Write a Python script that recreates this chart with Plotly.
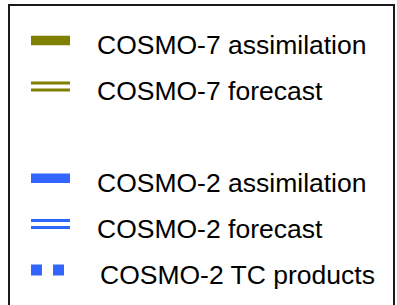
import plotly.graph_objects as go

# Legend entries (the chart is a standalone key)
labels = ["COSMO-7 assimilation", "COSMO-7 forecast",
          "COSMO-2 assimilation", "COSMO-2 forecast", "COSMO-2 TC products"]
rows = [0, 1, 3, 4, 5]            # row 2 is an empty spacer row
kinds = ["assimilation", "forecast", "assimilation", "forecast", "products"]
colors = {"COSMO-7": "#808000", "COSMO-2": "#3366ff"}

W, H = 397, 305
ROW_PX = 45.9          # row spacing in pixels
TOP_PX = 40.5          # centre of first row in pixels

fig = go.Figure()

def off(px):
    return px / ROW_PX

for lab, r, kind in zip(labels, rows, kinds):
    col = colors[lab.split()[0]]
    if kind == "assimilation":
        fig.add_trace(go.Scatter(x=[31, 70], y=[r, r], mode="lines",
                                 line=dict(color=col, width=9.5),
                                 hoverinfo="skip", showlegend=False))
    elif kind == "forecast":
        for d in (-3.5, 3.5):
            fig.add_trace(go.Scatter(x=[31, 70], y=[r + off(d), r + off(d)], mode="lines",
                                     line=dict(color=col, width=3),
                                     hoverinfo="skip", showlegend=False))
    else:
        fig.add_trace(go.Scatter(x=[36.5, 58.5], y=[r, r], mode="markers",
                                 marker=dict(symbol="square", size=11, color=col,
                                             line=dict(width=0)),
                                 hoverinfo="skip", showlegend=False))
    tx = 100 if kind == "products" else 97
    fig.add_trace(go.Scatter(x=[tx], y=[r + off(7)], mode="text", text=[lab],
                             textposition="middle right",
                             textfont=dict(family="Liberation Sans, Arial, sans-serif",
                                           size=26.5, color="#000000"),
                             hoverinfo="skip", showlegend=False))

r0 = -TOP_PX / ROW_PX
r1 = (H - TOP_PX) / ROW_PX

fig.add_shape(type="rect", xref="paper", yref="paper",
              x0=9 / W, x1=394 / W, y0=-0.05, y1=1 - 5 / H,
              line=dict(color="#1a1a1a", width=2), fillcolor="rgba(0,0,0,0)")

fig.update_layout(
    width=W, height=H, autosize=False,
    margin=dict(l=0, r=0, t=0, b=0, pad=0),
    paper_bgcolor="white", plot_bgcolor="white",
    xaxis=dict(range=[0, W], visible=False, fixedrange=True),
    yaxis=dict(range=[r1, r0], visible=False, fixedrange=True),
    hovermode=False,
)

fig.write_html("out.html",
               config={"displayModeBar": False, "staticPlot": True},
               post_script="document.body.style.margin='0px';"
                           "document.body.style.overflow='hidden';")
